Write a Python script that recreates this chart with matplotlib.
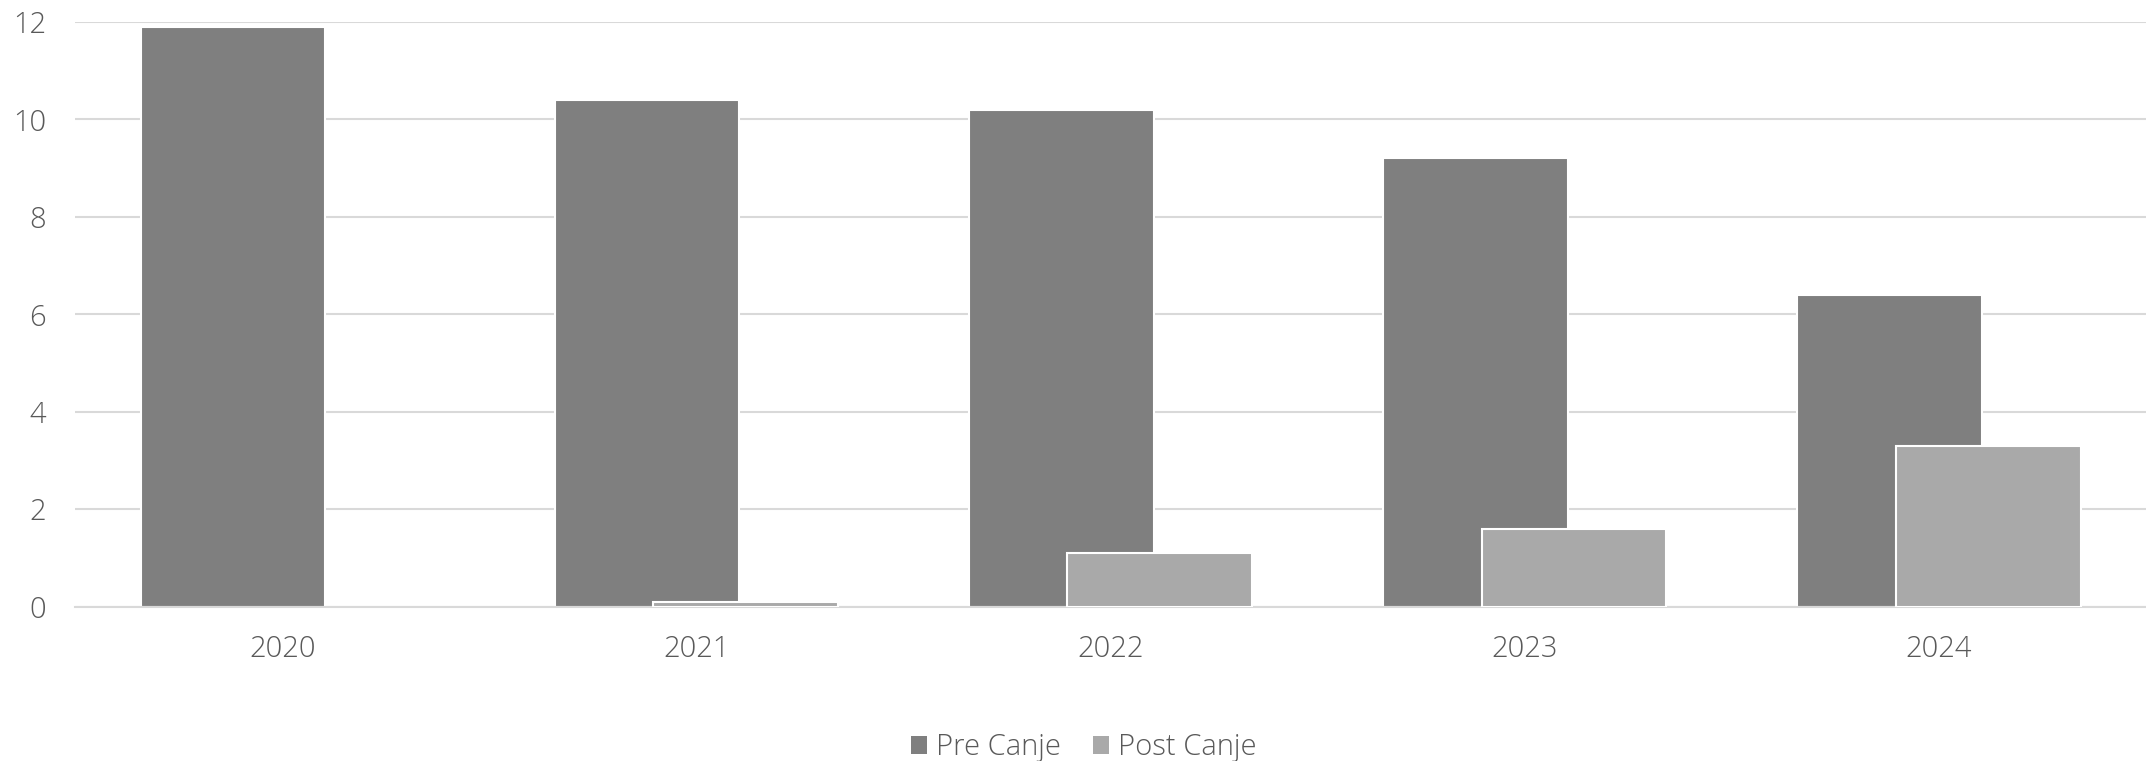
import matplotlib
matplotlib.use("Agg")

import matplotlib.pyplot as plt
import numpy as np

YEARS = ['2020', '2021', '2022', '2023', '2024']
PRE_CANJE = [11.9, 10.4, 10.2, 9.2, 6.4]
POST_CANJE = [0.0, 0.1, 1.1, 1.6, 3.3]
Y_TICKS = [0, 2, 4, 6, 8, 10, 12]

PRE_COLOR = '#7f7f7f'
POST_COLOR = '#a9a9a9'
GRID_COLOR = '#d9d9d9'
TEXT_COLOR = '#595959'

plt.rcParams['font.family'] = ['Open Sans', 'DejaVu Sans']
plt.rcParams['font.weight'] = 'light'

fig = plt.figure(figsize=(21.46, 7.61), dpi=100)
ax = fig.add_axes([0.035, 0.203, 0.965, 0.768])

x = np.arange(len(YEARS))
width = 0.446
shift = 0.119

# bars of zero height get no outline (Excel draws nothing there)
pre_edges = ['white' if v > 0 else 'none' for v in PRE_CANJE]
post_edges = ['white' if v > 0 else 'none' for v in POST_CANJE]

ax.bar(x - shift, PRE_CANJE, width, color=PRE_COLOR, edgecolor=pre_edges,
       linewidth=1.5, zorder=2, label='Pre Canje')
ax.bar(x + shift, POST_CANJE, width, color=POST_COLOR, edgecolor=post_edges,
       linewidth=1.5, zorder=3, label='Post Canje')

ax.set_xlim(-0.5, 4.5)
ax.set_ylim(0, 12)
ax.set_yticks(Y_TICKS)
ax.set_xticks(x)
ax.set_xticklabels(YEARS)

ax.yaxis.grid(True, color=GRID_COLOR, linewidth=1.5, zorder=0)
ax.set_axisbelow(True)
for s in ['top', 'right', 'left']:
    ax.spines[s].set_visible(False)
ax.spines['bottom'].set_color(GRID_COLOR)
ax.spines['bottom'].set_linewidth(1.5)

ax.tick_params(axis='y', length=0, pad=21, labelsize=21, labelcolor=TEXT_COLOR)
ax.tick_params(axis='x', length=0, pad=20, labelsize=21, labelcolor=TEXT_COLOR)

leg = fig.legend(loc='center', bbox_to_anchor=(0.505, 0.018), ncol=2,
                 frameon=False, fontsize=21, handlelength=0.55, handleheight=0.55,
                 handletextpad=0.3, columnspacing=1.1)
for h in leg.legend_handles:
    h.set_edgecolor('none')
for t in leg.get_texts():
    t.set_color(TEXT_COLOR)

fig.savefig('out.png', dpi=100, facecolor='white')
